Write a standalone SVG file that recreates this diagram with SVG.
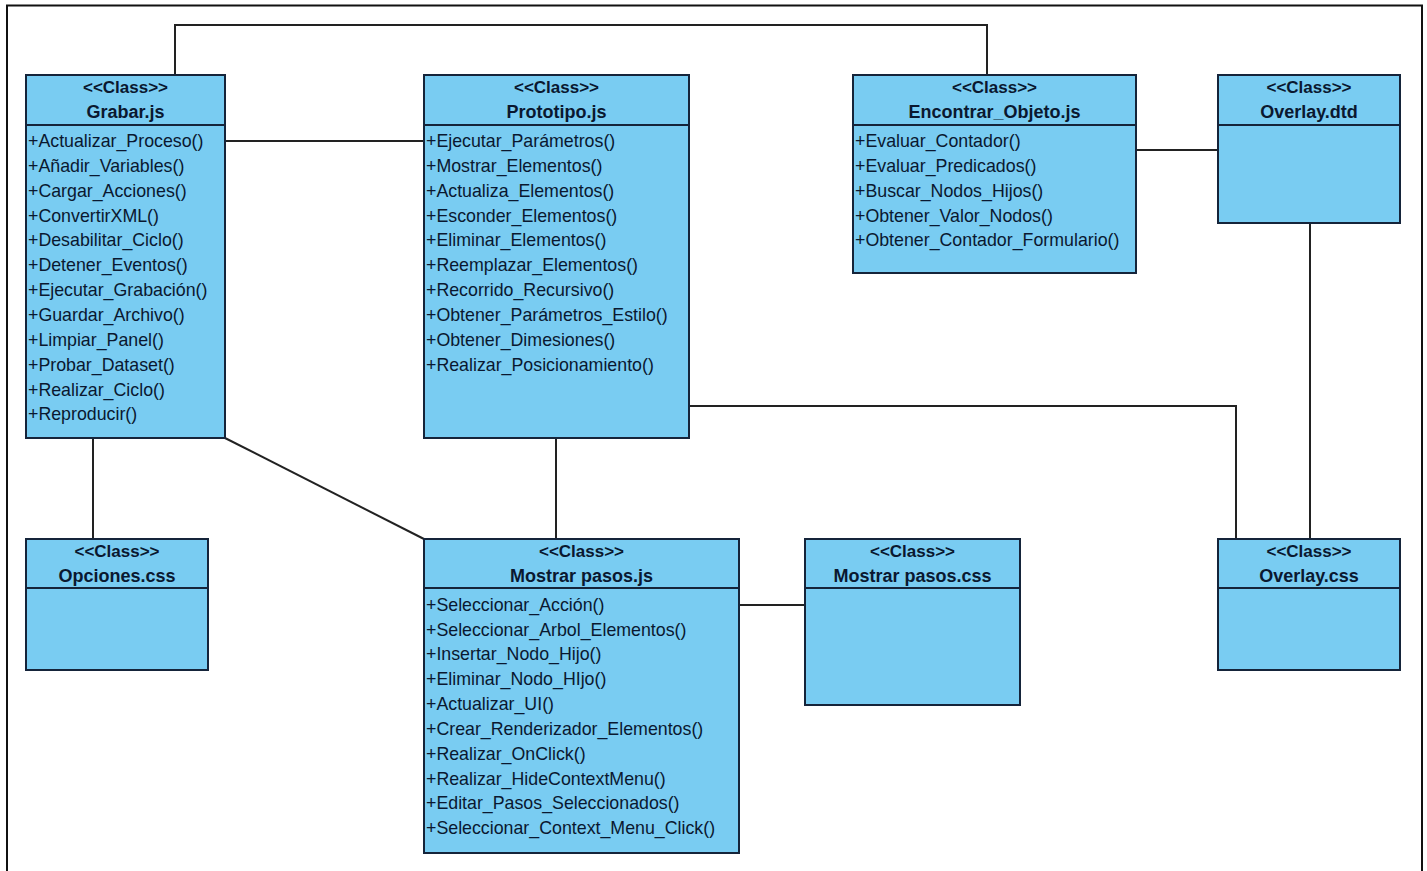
<svg xmlns="http://www.w3.org/2000/svg" width="1427" height="871" viewBox="0 0 1427 871">
<style>
.box{fill:#79ccf2;stroke:#15243a;stroke-width:2}
.div{stroke:#15243a;stroke-width:2}
.st{font-family:"Liberation Sans",Arial,sans-serif;font-weight:bold;font-size:17px;fill:#0a1830;text-anchor:middle}
.nm{font-family:"Liberation Sans",Arial,sans-serif;font-weight:bold;font-size:18px;fill:#0a1830;text-anchor:middle}
.m{font-family:"Liberation Sans",Arial,sans-serif;font-size:17.8px;fill:#0a1830}
.c{fill:none;stroke:#222;stroke-width:2}
</style>
<rect x="0" y="0" width="1427" height="871" fill="#fff"/>
<rect x="7" y="5.5" width="1415" height="880" fill="none" stroke="#111" stroke-width="2"/>
<g id="connectors">
<polyline class="c" points="175,75 175,25 987,25 987,75"/>
<line class="c" x1="225" y1="141" x2="424" y2="141"/>
<line class="c" x1="1136" y1="150" x2="1218" y2="150"/>
<line class="c" x1="1310" y1="223" x2="1310" y2="539"/>
<polyline class="c" points="689,406 1236,406 1236,539"/>
<line class="c" x1="93" y1="438" x2="93" y2="539"/>
<line class="c" x1="225" y1="438" x2="424" y2="539"/>
<line class="c" x1="556" y1="438" x2="556" y2="539"/>
<line class="c" x1="739" y1="605" x2="805" y2="605"/>
</g>
<g id="grabar">
<rect class="box" x="26" y="75" width="199" height="363"/>
<line class="div" x1="26" y1="125" x2="225" y2="125"/>
<text class="st" x="125.5" y="93">&lt;&lt;Class&gt;&gt;</text>
<text class="nm" x="125.5" y="118">Grabar.js</text>
<text class="m" x="28" y="147">+Actualizar_Proceso()</text>
<text class="m" x="28" y="172">+Añadir_Variables()</text>
<text class="m" x="28" y="197">+Cargar_Acciones()</text>
<text class="m" x="28" y="222">+ConvertirXML()</text>
<text class="m" x="28" y="246">+Desabilitar_Ciclo()</text>
<text class="m" x="28" y="271">+Detener_Eventos()</text>
<text class="m" x="28" y="296">+Ejecutar_Grabación()</text>
<text class="m" x="28" y="321">+Guardar_Archivo()</text>
<text class="m" x="28" y="346">+Limpiar_Panel()</text>
<text class="m" x="28" y="371">+Probar_Dataset()</text>
<text class="m" x="28" y="396">+Realizar_Ciclo()</text>
<text class="m" x="28" y="420">+Reproducir()</text>
</g>
<g id="prototipo">
<rect class="box" x="424" y="75" width="265" height="363"/>
<line class="div" x1="424" y1="125" x2="689" y2="125"/>
<text class="st" x="556.5" y="93">&lt;&lt;Class&gt;&gt;</text>
<text class="nm" x="556.5" y="118">Prototipo.js</text>
<text class="m" x="426" y="147">+Ejecutar_Parámetros()</text>
<text class="m" x="426" y="172">+Mostrar_Elementos()</text>
<text class="m" x="426" y="197">+Actualiza_Elementos()</text>
<text class="m" x="426" y="222">+Esconder_Elementos()</text>
<text class="m" x="426" y="246">+Eliminar_Elementos()</text>
<text class="m" x="426" y="271">+Reemplazar_Elementos()</text>
<text class="m" x="426" y="296">+Recorrido_Recursivo()</text>
<text class="m" x="426" y="321">+Obtener_Parámetros_Estilo()</text>
<text class="m" x="426" y="346">+Obtener_Dimesiones()</text>
<text class="m" x="426" y="371">+Realizar_Posicionamiento()</text>
</g>
<g id="encontrar">
<rect class="box" x="853" y="75" width="283" height="198"/>
<line class="div" x1="853" y1="125" x2="1136" y2="125"/>
<text class="st" x="994.5" y="93">&lt;&lt;Class&gt;&gt;</text>
<text class="nm" x="994.5" y="118">Encontrar_Objeto.js</text>
<text class="m" x="855" y="147">+Evaluar_Contador()</text>
<text class="m" x="855" y="172">+Evaluar_Predicados()</text>
<text class="m" x="855" y="197">+Buscar_Nodos_Hijos()</text>
<text class="m" x="855" y="222">+Obtener_Valor_Nodos()</text>
<text class="m" x="855" y="246">+Obtener_Contador_Formulario()</text>
</g>
<g id="overlay-dtd">
<rect class="box" x="1218" y="75" width="182" height="148"/>
<line class="div" x1="1218" y1="125" x2="1400" y2="125"/>
<text class="st" x="1309" y="93">&lt;&lt;Class&gt;&gt;</text>
<text class="nm" x="1309" y="118">Overlay.dtd</text>
</g>
<g id="opciones">
<rect class="box" x="26" y="539" width="182" height="131"/>
<line class="div" x1="26" y1="588" x2="208" y2="588"/>
<text class="st" x="117" y="557">&lt;&lt;Class&gt;&gt;</text>
<text class="nm" x="117" y="582">Opciones.css</text>
</g>
<g id="mostrar-js">
<rect class="box" x="424" y="539" width="315" height="314"/>
<line class="div" x1="424" y1="588" x2="739" y2="588"/>
<text class="st" x="581.5" y="557">&lt;&lt;Class&gt;&gt;</text>
<text class="nm" x="581.5" y="582">Mostrar pasos.js</text>
<text class="m" x="426" y="611">+Seleccionar_Acción()</text>
<text class="m" x="426" y="636">+Seleccionar_Arbol_Elementos()</text>
<text class="m" x="426" y="660">+Insertar_Nodo_Hijo()</text>
<text class="m" x="426" y="685">+Eliminar_Nodo_HIjo()</text>
<text class="m" x="426" y="710">+Actualizar_UI()</text>
<text class="m" x="426" y="735">+Crear_Renderizador_Elementos()</text>
<text class="m" x="426" y="760">+Realizar_OnClick()</text>
<text class="m" x="426" y="785">+Realizar_HideContextMenu()</text>
<text class="m" x="426" y="809">+Editar_Pasos_Seleccionados()</text>
<text class="m" x="426" y="834">+Seleccionar_Context_Menu_Click()</text>
</g>
<g id="mostrar-css">
<rect class="box" x="805" y="539" width="215" height="166"/>
<line class="div" x1="805" y1="588" x2="1020" y2="588"/>
<text class="st" x="912.5" y="557">&lt;&lt;Class&gt;&gt;</text>
<text class="nm" x="912.5" y="582">Mostrar pasos.css</text>
</g>
<g id="overlay-css">
<rect class="box" x="1218" y="539" width="182" height="131"/>
<line class="div" x1="1218" y1="588" x2="1400" y2="588"/>
<text class="st" x="1309" y="557">&lt;&lt;Class&gt;&gt;</text>
<text class="nm" x="1309" y="582">Overlay.css</text>
</g>
</svg>
